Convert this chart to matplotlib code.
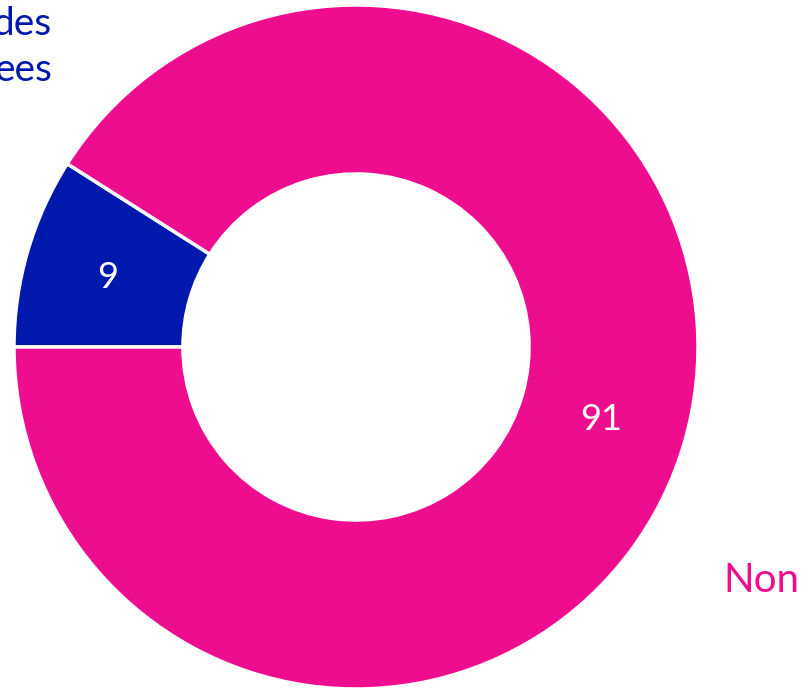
import matplotlib
matplotlib.use('Agg')
import matplotlib.pyplot as plt

# donut values (blue slice first, drawn clockwise from the left)
categories = ['des\nees', 'Non']
values = [9, 91]
colors = ['#0019AD', '#EE0C8F']

plt.rcParams['font.family'] = ['Lato', 'DejaVu Sans']

fig = plt.figure(figsize=(8.1, 6.88), dpi=100)
ax = fig.add_axes([0, 0, 1, 1])

cx, cy, r = 356, 341, 342
wedges, _ = ax.pie(values, colors=colors, startangle=180, counterclock=False,
                   center=(cx, cy), radius=r,
                   wedgeprops=dict(width=r * 0.494, edgecolor='white', linewidth=2.5))

ax.set_xlim(0, 810)
ax.set_ylim(0, 688)
ax.set_aspect('equal')
ax.axis('off')

# value labels inside the ring
ax.text(108, 688 - 277, str(values[0]), color='white', fontsize=26,
        ha='center', va='center')
ax.text(601, 688 - 420, str(values[1]), color='white', fontsize=26,
        ha='center', va='center')

# category labels, cut off by the figure edge
ax.text(52, 688 - 47, categories[0], color=colors[0], fontsize=28,
        ha='right', va='center', linespacing=1.35)
ax.text(723, 688 - 581, categories[1], color=colors[1], fontsize=29,
        ha='left', va='center')

fig.savefig('out.png', dpi=100)
